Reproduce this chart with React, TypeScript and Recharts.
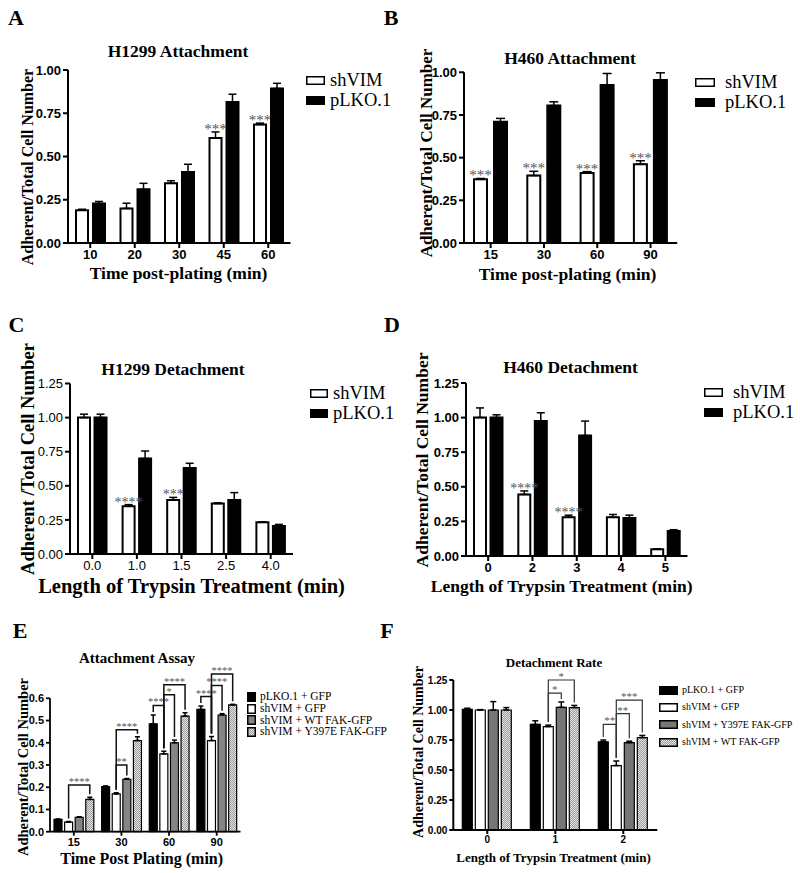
import React from 'react';
import { BarChart, Bar, XAxis, YAxis, ErrorBar, LabelList, Legend } from 'recharts';

const SERIF = '"Liberation Serif", "Times New Roman", serif';
const SANS = '"Liberation Sans", Arial, sans-serif';

// A - H1299 attachment
const catsA = ['10', '20', '30', '45', '60'];
const shVimA = [0.19, 0.2, 0.345, 0.607, 0.685];
const shVimErrA = [0.005, 0.03, 0.015, 0.035, 0.008];
const pLkoA = [0.228, 0.31, 0.41, 0.815, 0.893];
const pLkoErrA = [0.012, 0.035, 0.045, 0.045, 0.03];
const starsA = ['', '', '', '***', '***'];

// B - H460 attachment
const catsB = ['15', '30', '60', '90'];
const shVimB = [0.373, 0.395, 0.41, 0.462];
const shVimErrB = [0.005, 0.025, 0.008, 0.02];
const pLkoB = [0.71, 0.805, 0.925, 0.955];
const pLkoErrB = [0.02, 0.022, 0.068, 0.042];
const starsB = ['***', '***', '***', '***'];

// C - H1299 detachment
const catsC = ['0.0', '1.0', '1.5', '2.5', '4.0'];
const shVimC = [1.0, 0.35, 0.395, 0.37, 0.232];
const shVimErrC = [0.025, 0.012, 0.02, 0.005, 0.004];
const pLkoC = [1.0, 0.7, 0.63, 0.395, 0.205];
const pLkoErrC = [0.025, 0.055, 0.035, 0.055, 0.012];
const starsC = ['', '****', '***', '', ''];

// D - H460 detachment
const catsD = ['0', '2', '3', '4', '5'];
const shVimD = [1.0, 0.445, 0.28, 0.28, 0.048];
const shVimErrD = [0.07, 0.025, 0.015, 0.02, 0.004];
const pLkoD = [1.0, 0.975, 0.87, 0.275, 0.18];
const pLkoErrD = [0.02, 0.06, 0.105, 0.02, 0.01];
const starsD = ['', '****', '****', '', ''];

// E - attachment assay
const catsE = ['15', '30', '60', '90'];
const namesE = ['pLKO.1 + GFP', 'shVIM + GFP', 'shVIM + WT FAK-GFP', 'shVIM + Y397E FAK-GFP'];
const ctrlE = [0.055, 0.203, 0.485, 0.55];
const ctrlErrE = [0.002, 0.003, 0.04, 0.015];
const shE = [0.043, 0.17, 0.35, 0.41];
const shErrE = [0.003, 0.005, 0.012, 0.018];
const wtE = [0.065, 0.236, 0.4, 0.525];
const wtErrE = [0.002, 0.003, 0.012, 0.006];
const yE = [0.145, 0.41, 0.52, 0.57];
const yErrE = [0.01, 0.017, 0.015, 0.003];
// [category, from series, to series, bracket level, label]
const bracketsE: [number, number, number, number, string][] = [
  [0, 1, 3, 0.21, '****'],
  [1, 1, 2, 0.3, '**'],
  [1, 1, 3, 0.458, '****'],
  [2, 0, 1, 0.568, '****'],
  [2, 1, 2, 0.616, '*'],
  [2, 1, 3, 0.661, '****'],
  [3, 0, 1, 0.608, '****'],
  [3, 1, 2, 0.658, '****'],
  [3, 1, 3, 0.709, '****'],
];

// F - detachment rate
const catsF = ['0', '1', '2'];
const namesF = ['pLKO.1 + GFP', 'shVIM + GFP', 'shVIM + Y397E FAK-GFP', 'shVIM + WT FAK-GFP'];
const ctrlF = [1.005, 0.88, 0.735];
const ctrlErrF = [0.01, 0.03, 0.015];
const shF = [1.0, 0.862, 0.537];
const shErrF = [0.003, 0.012, 0.038];
const yF = [1.0, 1.022, 0.728];
const yErrF = [0.07, 0.045, 0.012];
const wtF = [1.0, 1.02, 0.77];
const wtErrF = [0.02, 0.018, 0.018];
const bracketsF: [number, number, number, number, string][] = [
  [1, 1, 2, 1.14, '*'],
  [1, 1, 3, 1.25, '*'],
  [2, 0, 1, 0.88, '**'],
  [2, 1, 2, 0.97, '**'],
  [2, 1, 3, 1.083, '***'],
];

const ticks1 = [0, 0.25, 0.5, 0.75, 1];
const ticks125 = [0, 0.25, 0.5, 0.75, 1, 1.25];
const ticks06 = [0, 0.1, 0.2, 0.3, 0.4, 0.5, 0.6];

type Series = { name: string; values: number[]; errors: number[]; fill: string };
type Spec = {
  id: string;
  cats: string[];
  series: Series[];
  yMax: number;
  yTicks: number[];
  digits: number;
  stars?: string[];
  brackets?: [number, number, number, number, string][];
};
type Layout = {
  box: [number, number, number, number];
  plot: [number, number, number, number];
  barSize: number;
  barGap: number;
  cap: number;
  barStroke: number;
  axisStroke: number;
  tickSize: number;
  tickFont: number;
  tickBold: boolean;
  markFont: number;
  bracketColor?: string;
  bracketWidth?: number;
  legend: { x: number; y: number; row: number; sw: number; sh: number; gap: number; font: number };
};

function Panel({ spec, lay }: { spec: Spec; lay: Layout }) {
  const [bl, bt, bw, bh] = lay.box;
  const [pl, pt, pr, pb] = lay.plot;
  const rows = spec.cats.map((c, i) => {
    const r: Record<string, unknown> = { cat: c };
    spec.series.forEach((s, si) => {
      r['v' + si] = s.values[i];
      r['e' + si] = [0, s.errors[i]];
    });
    return r;
  });

  const marks = (si: number) => (props: any) => {
    const vb = props.viewBox ?? props;
    let i = props.index;
    if (typeof i !== 'number') i = spec.series[si].values.indexOf(props.value);
    const top = Math.min(vb.y, vb.y + vb.height);
    const h = Math.abs(vb.height);
    const base = top + h;
    const v = spec.series[si].values[i];
    const k = h / v;
    const cx = vb.x + vb.width / 2;
    const step = vb.width + lay.barGap;
    const out: React.ReactNode[] = [];
    if (spec.stars && si === 0 && spec.stars[i]) {
      const eTop = base - (v + spec.series[si].errors[i]) * k;
      out.push(
        <text key="s" x={cx} y={eTop + 2} textAnchor="middle" fontFamily={SERIF} fontSize={lay.markFont} fill="#555">
          {spec.stars[i]}
        </text>
      );
    }
    (spec.brackets || []).forEach(([at, from, to, level, txt], bi) => {
      if (at !== i || from !== si) return;
      const x1 = cx;
      const x2 = cx + (to - from) * step;
      const yTop = base - level * k;
      const leg = (s: number) => base - (spec.series[s].values[i] + spec.series[s].errors[i]) * k - 3;
      out.push(
        <path
          key={'b' + bi}
          d={`M${x1},${leg(from)}V${yTop}H${x2}V${leg(to)}`}
          fill="none"
          stroke={lay.bracketColor || '#000'}
          strokeWidth={lay.bracketWidth || 1.5}
        />
      );
      out.push(
        <text key={'t' + bi} x={(x1 + x2) / 2} y={yTop} textAnchor="middle" fontFamily={SERIF} fontSize={lay.markFont} fill="#555">
          {txt}
        </text>
      );
    });
    return <g>{out}</g>;
  };

  const lg = lay.legend;
  const axis = { stroke: '#000', strokeWidth: lay.axisStroke };
  const tick = { fill: '#000', fontSize: lay.tickFont, fontFamily: SANS, fontWeight: lay.tickBold ? 700 : 400 };

  return (
    <div style={{ position: 'absolute', left: bl, top: bt }}>
      <BarChart
        width={bw}
        height={bh}
        data={rows}
        margin={{ top: pt - bt, right: bl + bw - pr, bottom: 0, left: 0 }}
        barSize={lay.barSize}
        barGap={lay.barGap}
      >
        <defs>
          <pattern id={'hatch' + spec.id} width={2} height={2} patternUnits="userSpaceOnUse">
            <rect width={2} height={2} fill="#e6e6e6" />
            <rect width={1} height={1} fill="#9a9a9a" />
            <rect x={1} y={1} width={1} height={1} fill="#9a9a9a" />
          </pattern>
        </defs>
        <XAxis
          dataKey="cat"
          interval={0}
          height={bt + bh - pb}
          tickSize={lay.tickSize}
          axisLine={axis}
          tickLine={axis}
          tick={tick}
        />
        <YAxis
          width={pl - bl}
          domain={[0, spec.yMax]}
          ticks={spec.yTicks}
          interval={0}
          tickSize={lay.tickSize}
          axisLine={axis}
          tickLine={axis}
          tick={tick}
          tickFormatter={(v: number) => v.toFixed(spec.digits)}
        />
        {spec.series.map((s, si) => (
          <Bar
            key={s.name}
            dataKey={'v' + si}
            name={s.name}
            fill={s.fill}
            stroke="#000"
            strokeWidth={lay.barStroke}
            isAnimationActive={false}
          >
            <ErrorBar dataKey={'e' + si} width={lay.cap} stroke="#000" strokeWidth={1.5} direction="y" />
            <LabelList content={marks(si)} />
          </Bar>
        ))}
        <Legend
          layout="vertical"
          align="center"
          verticalAlign="middle"
          wrapperStyle={{ left: lg.x - bl, top: lg.y - bt, width: 'auto', height: 'auto' }}
          content={() => (
            <div>
              {spec.series.map((s) => (
                <div key={s.name} style={{ display: 'flex', alignItems: 'center', height: lg.row }}>
                  <svg width={lg.sw} height={lg.sh} style={{ flex: 'none', display: 'block' }}>
                    <rect
                      x={0.75}
                      y={0.75}
                      width={lg.sw - 1.5}
                      height={lg.sh - 1.5}
                      fill={s.fill}
                      stroke="#000"
                      strokeWidth={1.5}
                    />
                  </svg>
                  <span
                    style={{
                      marginLeft: lg.gap,
                      fontFamily: SERIF,
                      fontSize: lg.font,
                      lineHeight: 1,
                      whiteSpace: 'nowrap',
                      color: '#000',
                    }}
                  >
                    {s.name}
                  </span>
                </div>
              ))}
            </div>
          )}
        />
      </BarChart>
    </div>
  );
}

function Txt({ x, y, size, rotate, bold = true, children }: { x: number; y: number; size: number; rotate?: boolean; bold?: boolean; children: React.ReactNode }) {
  return (
    <div
      style={{
        position: 'absolute',
        left: x,
        top: y,
        transform: `translate(-50%, -50%)${rotate ? ' rotate(-90deg)' : ''}`,
        fontFamily: SERIF,
        fontSize: size,
        fontWeight: bold ? 700 : 400,
        lineHeight: 1,
        whiteSpace: 'nowrap',
        color: '#000',
      }}
    >
      {children}
    </div>
  );
}

const twoSeries = (a: number[], ae: number[], b: number[], be: number[]): Series[] => [
  { name: 'shVIM', values: a, errors: ae, fill: '#fff' },
  { name: 'pLKO.1', values: b, errors: be, fill: '#000' },
];

const specA: Spec = { id: 'A', cats: catsA, series: twoSeries(shVimA, shVimErrA, pLkoA, pLkoErrA), yMax: 1, yTicks: ticks1, digits: 2, stars: starsA };
const specB: Spec = { id: 'B', cats: catsB, series: twoSeries(shVimB, shVimErrB, pLkoB, pLkoErrB), yMax: 1, yTicks: ticks1, digits: 2, stars: starsB };
const specC: Spec = { id: 'C', cats: catsC, series: twoSeries(shVimC, shVimErrC, pLkoC, pLkoErrC), yMax: 1.25, yTicks: ticks125, digits: 2, stars: starsC };
const specD: Spec = { id: 'D', cats: catsD, series: twoSeries(shVimD, shVimErrD, pLkoD, pLkoErrD), yMax: 1.25, yTicks: ticks125, digits: 2, stars: starsD };
const specE: Spec = {
  id: 'E',
  cats: catsE,
  series: [
    { name: namesE[0], values: ctrlE, errors: ctrlErrE, fill: '#000' },
    { name: namesE[1], values: shE, errors: shErrE, fill: '#fff' },
    { name: namesE[2], values: wtE, errors: wtErrE, fill: '#858585' },
    { name: namesE[3], values: yE, errors: yErrE, fill: 'url(#hatchE)' },
  ],
  yMax: 0.6,
  yTicks: ticks06,
  digits: 1,
  brackets: bracketsE,
};
const specF: Spec = {
  id: 'F',
  cats: catsF,
  series: [
    { name: namesF[0], values: ctrlF, errors: ctrlErrF, fill: '#000' },
    { name: namesF[1], values: shF, errors: shErrF, fill: '#fff' },
    { name: namesF[2], values: yF, errors: yErrF, fill: '#777' },
    { name: namesF[3], values: wtF, errors: wtErrF, fill: 'url(#hatchF)' },
  ],
  yMax: 1.25,
  yTicks: ticks125,
  digits: 2,
  brackets: bracketsF,
};

const bigLayout = {
  barStroke: 2,
  axisStroke: 2,
  tickSize: 5,
  tickFont: 13,
  tickBold: true,
  markFont: 15,
};

const layA: Layout = { ...bigLayout, box: [18, 20, 382, 245], plot: [68, 70, 290.5, 243], barSize: 12, barGap: 5, cap: 4, legend: { x: 306, y: 70, row: 20, sw: 19, sh: 9, gap: 5, font: 18.5 } };
const layB: Layout = { ...bigLayout, box: [414, 20, 386, 245], plot: [464, 72.3, 677.2, 243], barSize: 13, barGap: 7, cap: 4.5, legend: { x: 695, y: 72, row: 20, sw: 20, sh: 9, gap: 10, font: 18.5 } };
const layC: Layout = { ...bigLayout, tickBold: false, markFont: 14, box: [20, 330, 380, 246], plot: [70, 383.5, 293, 554], barSize: 12, barGap: 4.5, cap: 4, legend: { x: 310, y: 383, row: 20, sw: 18, sh: 9, gap: 5, font: 18.5 } };
const layD: Layout = { ...bigLayout, markFont: 14, box: [416, 330, 384, 248], plot: [466, 383, 687.5, 556], barSize: 12, barGap: 4.5, cap: 4, legend: { x: 704, y: 382.5, row: 20, sw: 19, sh: 9, gap: 10, font: 18.5 } };
const layE: Layout = {
  box: [8, 640, 392, 210],
  plot: [50, 698.3, 240.5, 831.7],
  barSize: 8,
  barGap: 2.6,
  cap: 2.5,
  barStroke: 1.2,
  axisStroke: 1.8,
  tickSize: 4,
  tickFont: 11,
  tickBold: true,
  markFont: 10.5,
  bracketColor: '#111',
  bracketWidth: 1.5,
  legend: { x: 247, y: 691.2, row: 11.7, sw: 9, sh: 10, gap: 4, font: 11.5 },
};
const layF: Layout = {
  box: [413, 640, 387, 208],
  plot: [453.3, 680, 657.3, 830],
  barSize: 10,
  barGap: 3,
  cap: 3,
  barStroke: 1.2,
  axisStroke: 2,
  tickSize: 4,
  tickFont: 10,
  tickBold: true,
  markFont: 11,
  bracketColor: '#333',
  bracketWidth: 1.2,
  legend: { x: 659, y: 681.5, row: 17.3, sw: 19, sh: 9, gap: 4, font: 10 },
};

export default function App() {
  return (
    <div style={{ position: 'absolute', left: 0, top: 0, width: 800, height: 873, background: '#fff', overflow: 'hidden' }}>
      <Panel spec={specA} lay={layA} />
      <Panel spec={specB} lay={layB} />
      <Panel spec={specC} lay={layC} />
      <Panel spec={specD} lay={layD} />
      <Panel spec={specE} lay={layE} />
      <Panel spec={specF} lay={layF} />

      <Txt x={16} y={18} size={22}>A</Txt>
      <Txt x={391} y={18} size={22}>B</Txt>
      <Txt x={16.5} y={325} size={22}>C</Txt>
      <Txt x={392} y={325} size={22}>D</Txt>
      <Txt x={20} y={631} size={22}>E</Txt>
      <Txt x={387} y={631} size={22}>F</Txt>

      <Txt x={178} y={52} size={17.5}>H1299 Attachment</Txt>
      <Txt x={570} y={59} size={17.5}>H460 Attachment</Txt>
      <Txt x={173} y={370} size={17.5}>H1299 Detachment</Txt>
      <Txt x={570.5} y={368} size={17.5}>H460 Detachment</Txt>
      <Txt x={137} y={658} size={15}>Attachment Assay</Txt>
      <Txt x={554} y={662} size={13}>Detachment Rate</Txt>

      <Txt x={27.5} y={167} size={16} rotate>Adherent/Total Cell Number</Txt>
      <Txt x={426} y={152.5} size={17} rotate>Adherent/Total Cell Number</Txt>
      <Txt x={27.5} y={458.5} size={18.5} rotate>Adherent /Total Cell Number</Txt>
      <Txt x={423} y={460} size={17.5} rotate>Adherent/Total Cell Number</Txt>
      <Txt x={22.5} y={767} size={14.5} rotate>Adherent/Total Cell Number</Txt>
      <Txt x={419} y={752} size={14} rotate>Adherent/Total Cell Number</Txt>

      <Txt x={178.5} y={274} size={17.5}>Time post-plating (min)</Txt>
      <Txt x={567.5} y={275} size={17.5}>Time post-plating (min)</Txt>
      <Txt x={191.5} y={586} size={20.5}>Length of Trypsin Treatment (min)</Txt>
      <Txt x={561.7} y={587} size={17.5}>Length of Trypsin Treatment (min)</Txt>
      <Txt x={141.7} y={859} size={16}>Time Post Plating (min)</Txt>
      <Txt x={553.5} y={857} size={13}>Length of Trypsin Treatment (min)</Txt>
    </div>
  );
}
